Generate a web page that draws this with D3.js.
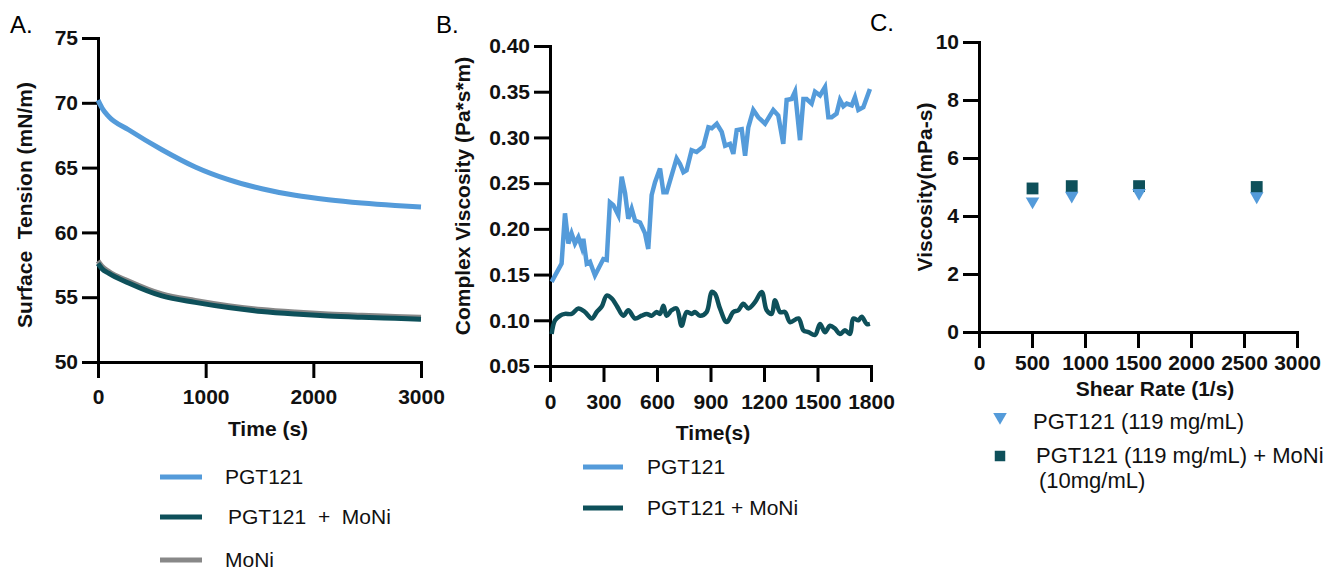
<!DOCTYPE html>
<html>
<head>
<meta charset="utf-8">
<script src="https://cdn.jsdelivr.net/npm/d3@7"></script>
<style>
  body { margin: 0; background: #fff; }
  svg { font-family: Arial, 'Liberation Sans', sans-serif; }
  .title { font-size: 21px; font-weight: bold; fill: #111; }
  .legend text { font-size: 21px; fill: #111; }
  .legend.c text { font-size: 22px; }
  .panel { font-size: 24px; fill: #000; }
</style>
</head>
<body>
<svg id="chart" width="1323" height="571"></svg>
<script>
var blue = 'rgb(84, 155, 218)'
var teal = 'rgb(14, 80, 90)'
var grey = 'rgb(136, 136, 136)'

// A. surface tension vs time
var tensionTime = [0, 37, 98, 284, 594, 903, 1212, 1521, 1831, 2140, 2450, 2759, 3000]
var tensionPGT = [70.2, 69.6, 68.95, 67.92, 66.38, 65.05, 64.07, 63.37, 62.86, 62.52, 62.27, 62.08, 61.96]
var tensionMix = [57.6, 57.2, 56.85, 56.1, 55.1, 54.6, 54.2, 53.9, 53.7, 53.55, 53.45, 53.37, 53.3]
var tensionMoNi = [57.8, 57.4, 57.0, 56.25, 55.25, 54.75, 54.35, 54.05, 53.85, 53.7, 53.6, 53.52, 53.45]

// B. complex viscosity vs time
var pgtTime = [9, 65, 84, 103, 121, 140, 159, 178, 187, 206, 224, 252, 299, 318, 336, 355, 383, 402, 421, 439,
  458, 477, 505, 533, 551, 570, 589, 617, 636, 654, 710, 729, 748, 766, 794, 822, 860, 888, 907, 935,
  963, 982, 1009, 1028, 1047, 1075, 1094, 1112, 1140, 1168, 1206, 1252, 1280, 1308, 1327, 1355, 1374, 1402, 1421, 1439,
  1467, 1486, 1514, 1542, 1561, 1579, 1607, 1626, 1645, 1664, 1692, 1710, 1729, 1757, 1794]
var pgtVisc = [0.142, 0.162, 0.217, 0.184, 0.195, 0.184, 0.191, 0.180, 0.189, 0.162, 0.164, 0.149, 0.167, 0.166, 0.229, 0.226, 0.215, 0.257, 0.239, 0.211,
  0.222, 0.209, 0.207, 0.195, 0.178, 0.237, 0.251, 0.266, 0.240, 0.240, 0.277, 0.271, 0.262, 0.264, 0.286, 0.284, 0.290, 0.311, 0.310, 0.315,
  0.306, 0.291, 0.293, 0.282, 0.308, 0.309, 0.280, 0.311, 0.330, 0.322, 0.315, 0.330, 0.324, 0.293, 0.341, 0.342, 0.350, 0.297, 0.342, 0.342,
  0.337, 0.350, 0.346, 0.355, 0.322, 0.322, 0.326, 0.341, 0.334, 0.337, 0.335, 0.344, 0.330, 0.333, 0.353]
var mixTime = [9, 28, 56, 84, 121, 159, 196, 234, 262, 290, 318, 346, 374, 411, 439, 477, 514, 542, 570, 598,
  617, 636, 654, 682, 710, 738, 766, 794, 813, 841, 878, 907, 925, 953, 991, 1028, 1056, 1084, 1112, 1150,
  1187, 1215, 1243, 1262, 1290, 1318, 1346, 1393, 1421, 1449, 1486, 1514, 1542, 1570, 1598, 1626, 1654, 1682, 1701, 1729,
  1748, 1776, 1794]
var mixVisc = [0.085, 0.100, 0.105, 0.107, 0.107, 0.113, 0.109, 0.102, 0.109, 0.115, 0.127, 0.124, 0.116, 0.105, 0.111, 0.102, 0.105, 0.107, 0.105, 0.109,
  0.107, 0.116, 0.105, 0.111, 0.113, 0.094, 0.109, 0.107, 0.109, 0.105, 0.109, 0.131, 0.129, 0.113, 0.098, 0.109, 0.111, 0.118, 0.113, 0.120,
  0.131, 0.111, 0.107, 0.122, 0.109, 0.109, 0.098, 0.102, 0.089, 0.087, 0.084, 0.096, 0.087, 0.094, 0.091, 0.085, 0.089, 0.085, 0.102, 0.100,
  0.104, 0.096, 0.096]

// C. viscosity vs shear rate
var shearRate = [505, 875, 1510, 2620]
var shearPGT = [4.5, 4.7, 4.8, 4.68]
var shearMix = [4.95, 5.03, 5.03, 5.0]

var svg = d3.select('#chart')

function zip(xs, ys) { return xs.map((x, i) => [x, ys[i]]) }

function axes(g, x, y, xTicks, yTicks, xFmt, yFmt, xPad) {
  var h = y.range()[0]
  g.append('g').attr('class', 'axis').attr('transform', `translate(0,${h})`)
    .call(d3.axisBottom(x).tickValues(xTicks).tickFormat(xFmt).tickSize(16).tickSizeOuter(0).tickPadding(xPad))
  g.append('g').attr('class', 'axis')
    .call(d3.axisLeft(y).tickValues(yTicks).tickFormat(yFmt).tickSize(16).tickSizeOuter(0).tickPadding(4))
  g.selectAll('.axis').attr('font-size', 21).attr('font-weight', 'bold')
    .attr('font-family', "Arial, 'Liberation Sans', sans-serif")
  g.selectAll('.axis text').attr('fill', '#111')
  g.selectAll('.axis line').attr('stroke', '#000').attr('stroke-width', 3)
  g.selectAll('.axis path').attr('stroke', '#000').attr('stroke-width', 3).attr('stroke-linecap', 'square')
}

// ---- panel A
var ax = d3.scaleLinear().domain([0, 3000]).range([0, 323])
var ay = d3.scaleLinear().domain([50, 75]).range([324, 0])
var gA = svg.append('g').attr('transform', 'translate(98,38)')
axes(gA, ax, ay, [0, 1000, 2000, 3000], [50, 55, 60, 65, 70, 75], d3.format('d'), d3.format('d'), 11)
var lineA = d3.line().x(d => ax(d[0])).y(d => ay(d[1])).curve(d3.curveMonotoneX)
gA.append('path').datum(zip(tensionTime, tensionMoNi)).attr('d', lineA)
  .attr('fill', 'none').attr('stroke', grey).attr('stroke-width', 5)
gA.append('path').datum(zip(tensionTime, tensionMix)).attr('d', lineA)
  .attr('fill', 'none').attr('stroke', teal).attr('stroke-width', 5)
gA.append('path').datum(zip(tensionTime, tensionPGT)).attr('d', lineA)
  .attr('fill', 'none').attr('stroke', blue).attr('stroke-width', 5)
svg.append('text').attr('class', 'title').attr('transform', 'translate(32,205) rotate(-90)')
  .attr('text-anchor', 'middle').attr('xml:space', 'preserve').text('Surface  Tension (mN/m)')
svg.append('text').attr('class', 'title').attr('x', 268).attr('y', 436).attr('text-anchor', 'middle').text('Time (s)')
svg.append('text').attr('class', 'panel').attr('x', 10).attr('y', 33).text('A.')

var legA = svg.append('g').attr('class', 'legend')
;[{label: 'PGT121', color: blue, y: 477, tx: 225},
  {label: 'PGT121  +  MoNi', color: teal, y: 517, tx: 228},
  {label: 'MoNi', color: grey, y: 560, tx: 225}].forEach(d => {
  legA.append('line').attr('x1', 160).attr('x2', 202).attr('y1', d.y).attr('y2', d.y)
    .attr('stroke', d.color).attr('stroke-width', 5)
  legA.append('text').attr('x', d.tx).attr('y', d.y).attr('dy', '0.35em')
    .attr('xml:space', 'preserve').text(d.label)
})

// ---- panel B
var bx = d3.scaleLinear().domain([0, 1800]).range([0, 321])
var by = d3.scaleLinear().domain([0.05, 0.40]).range([320, 0])
var gB = svg.append('g').attr('transform', 'translate(550,46)')
axes(gB, bx, by, [0, 300, 600, 900, 1200, 1500, 1800], [0.05, 0.10, 0.15, 0.20, 0.25, 0.30, 0.35, 0.40], d3.format('d'), d3.format('.2f'), 12)
var lineB = d3.line().x(d => bx(d[0])).y(d => by(d[1]))
gB.append('path').datum(zip(mixTime, mixVisc)).attr('d', lineB.curve(d3.curveCatmullRom))
  .attr('fill', 'none').attr('stroke', teal).attr('stroke-width', 4.5).attr('stroke-linejoin', 'round')
gB.append('path').datum(zip(pgtTime, pgtVisc)).attr('d', lineB.curve(d3.curveLinear))
  .attr('fill', 'none').attr('stroke', blue).attr('stroke-width', 4.5)
svg.append('text').attr('class', 'title').attr('transform', 'translate(470,196) rotate(-90)')
  .attr('text-anchor', 'middle').text('Complex Viscosity (Pa*s*m)')
svg.append('text').attr('class', 'title').attr('x', 713).attr('y', 440).attr('text-anchor', 'middle').text('Time(s)')
svg.append('text').attr('class', 'panel').attr('x', 436).attr('y', 33).text('B.')

var legB = svg.append('g').attr('class', 'legend')
;[{label: 'PGT121', color: blue, y: 467},
  {label: 'PGT121 + MoNi', color: teal, y: 508}].forEach(d => {
  legB.append('line').attr('x1', 583).attr('x2', 623).attr('y1', d.y).attr('y2', d.y)
    .attr('stroke', d.color).attr('stroke-width', 5)
  legB.append('text').attr('x', 647).attr('y', d.y).attr('dy', '0.35em').text(d.label)
})

// ---- panel C
var cx = d3.scaleLinear().domain([0, 3000]).range([0, 318])
var cy = d3.scaleLinear().domain([0, 10]).range([290, 0])
var gC = svg.append('g').attr('transform', 'translate(979,42)')
axes(gC, cx, cy, d3.range(0, 3001, 500), d3.range(0, 11, 2), d3.format('d'), d3.format('d'), 7)
var tri = d3.symbol().type(d3.symbolTriangle).size(80)
var sq = d3.symbol().type(d3.symbolSquare).size(140)
gC.selectAll('.pt-mix').data(zip(shearRate, shearMix)).join('path').attr('class', 'pt-mix')
  .attr('d', sq).attr('fill', teal).attr('transform', d => `translate(${cx(d[0])},${cy(d[1])})`)
gC.selectAll('.pt-pgt').data(zip(shearRate, shearPGT)).join('path').attr('class', 'pt-pgt')
  .attr('d', tri).attr('fill', blue).attr('transform', d => `translate(${cx(d[0])},${cy(d[1])}) rotate(180)`)
svg.append('text').attr('class', 'title').attr('transform', 'translate(932,187) rotate(-90)')
  .attr('text-anchor', 'middle').text('Viscosity(mPa-s)')
svg.append('text').attr('class', 'title').attr('x', 1155).attr('y', 396).attr('text-anchor', 'middle').text('Shear Rate (1/s)')
svg.append('text').attr('class', 'panel').attr('x', 870).attr('y', 31).text('C.')

var legC = svg.append('g').attr('class', 'legend c')
legC.append('path').attr('d', tri).attr('fill', blue).attr('transform', 'translate(1000,417) rotate(180)')
legC.append('text').attr('x', 1033).attr('y', 421).attr('dy', '0.35em').text('PGT121 (119 mg/mL)')
legC.append('path').attr('d', d3.symbol().type(d3.symbolSquare).size(110)).attr('fill', teal)
  .attr('transform', 'translate(1000,456)')
legC.append('text').attr('x', 1036).attr('y', 455).attr('dy', '0.35em').text('PGT121 (119 mg/mL) + MoNi')
legC.append('text').attr('x', 1039).attr('y', 480).attr('dy', '0.35em').text('(10mg/mL)')
</script>
</body>
</html>
